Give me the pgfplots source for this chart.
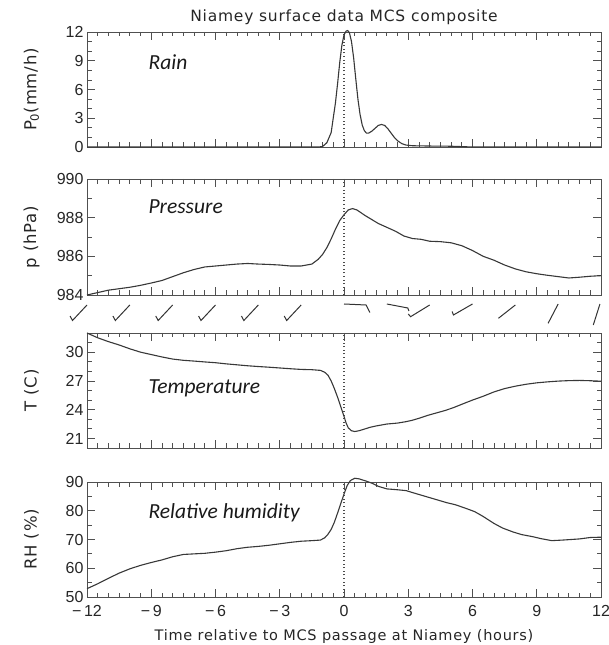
\documentclass[border=0pt]{standalone}
\usepackage{fontspec}
\setmainfont{Liberation Sans}
\newfontfamily\hfont{DejaVu Sans}[LetterSpace=5]
\newfontfamily\calfont{Carlito}
\usepackage{pgfplots}
\pgfplotsset{compat=1.18}
\definecolor{crv}{HTML}{383838}
\definecolor{frm}{HTML}{505050}
\tikzset{
  panellab/.style={anchor=west, font=\calfont\itshape\fontsize{21.5}{23}\selectfont, text=black!90},
  crvstyle/.style={crv, line width=1.1pt},
  zline/.style={black!70, line width=1.1pt, dash pattern=on 1pt off 2.6pt},
  barb/.style={black!80, line width=1pt},
  tk/.style={frm, line width=0.8pt},
}
% frame ticks drawn inside the box (relative positions): #1 major y ticks, #2 minor y ticks
\newcommand{\frameticks}[2]{%
  \pgfplotsinvokeforeach{0.0208333,0.0416667,0.0625,0.0833333,0.1041667,0.1458333,0.1666667,0.1875,0.2083333,0.2291667,0.2708333,0.2916667,0.3125,0.3333333,0.3541667,0.3958333,0.4166667,0.4375,0.4583333,0.4791667,0.5208333,0.5416667,0.5625,0.5833333,0.6041667,0.6458333,0.6666667,0.6875,0.7083333,0.7291667,0.7708333,0.7916667,0.8125,0.8333333,0.8541667,0.8958333,0.9166667,0.9375,0.9583333,0.9791667}{\draw[tk] (rel axis cs:##1,0) -- (rel axis cs:##1,0.03913); \draw[tk] (rel axis cs:##1,1) -- (rel axis cs:##1,0.96087);}
  \pgfplotsinvokeforeach{0.125,0.25,0.375,0.5,0.625,0.75,0.875}{\draw[tk] (rel axis cs:##1,0) -- (rel axis cs:##1,0.069565); \draw[tk] (rel axis cs:##1,1) -- (rel axis cs:##1,0.930435);}
  \pgfplotsinvokeforeach{#2}{\draw[tk] (rel axis cs:0,##1) -- (rel axis cs:0.008755,##1); \draw[tk] (rel axis cs:1,##1) -- (rel axis cs:0.991245,##1);}
  \pgfplotsinvokeforeach{#1}{\draw[tk] (rel axis cs:0,##1) -- (rel axis cs:0.015564,##1); \draw[tk] (rel axis cs:1,##1) -- (rel axis cs:0.984436,##1);}
}
\pgfplotsset{
  panel/.style={
    scale only axis, width=514pt, height=115pt,
    xmin=-12, xmax=12,
    xtick={-12,-9,...,12},
    axis line style={frm, line width=0.9pt},
    major tick length=0pt, minor tick length=0pt,
    tick label style={font=\fontsize{16}{17}\selectfont, text=black!85},
    every axis y label/.style={at={(axis description cs:-0.108,0.5)}, rotate=90, anchor=center, font=\hfont\fontsize{16.5}{17}\selectfont, text=black!85},
    clip=false,
    /pgf/number format/assume math mode=true,
  },
}
\begin{document}
\begin{tikzpicture}
\path[use as bounding box] (0,0) rectangle (609pt,645pt);
% ---------------- Rain ----------------
\begin{axis}[panel, at={(87pt,498pt)}, anchor=south west,
  ymin=0, ymax=12, ytick={0,3,...,12},
  xticklabels={},
  ylabel={P\textsubscript{0}(mm/h)},
  title={Niamey surface data MCS composite},
  title style={at={(axis description cs:0.5,1)}, anchor=center, yshift=9pt, font=\hfont\fontsize{15.5}{16}\selectfont, text=black!85}]
\frameticks{0.25,0.5,0.75}{0.0833333,0.1666667,0.3333333,0.4166667,0.5833333,0.6666667,0.8333333,0.9166667}
\addplot[zline] coordinates {(0,0) (0,12)};
\addplot[crvstyle] coordinates {
(-12,0) (-1.2,0) (-1.0,0.05) (-0.8,0.45) (-0.6,1.5) (-0.4,4.6) (-0.3,6.6) (-0.2,8.8) (-0.1,10.6) (0,11.7) (0.1,12.1) (0.17,12.15) (0.25,11.95) (0.35,11.0) (0.45,9.3) (0.55,7.1) (0.65,5.0) (0.75,3.4) (0.85,2.3) (0.95,1.7) (1.05,1.45) (1.15,1.45) (1.3,1.65) (1.45,1.95) (1.6,2.25) (1.75,2.35) (1.9,2.25) (2.05,1.9) (2.2,1.45) (2.35,1.0) (2.5,0.65) (2.7,0.35) (2.9,0.2) (3.2,0.13) (4,0.1) (5,0.08) (5.5,0.04) (6,0) (12,0)};
\node[panellab] at (axis description cs:0.113,0.74) {Rain};
\end{axis}
% ---------------- Pressure ----------------
\begin{axis}[panel, at={(87pt,350pt)}, anchor=south west, height=116pt,
  ymin=984, ymax=990, ytick={984,986,988,990},
  xticklabels={},
  ylabel={p (hPa)}]
\frameticks{0.3333333,0.6666667}{0.1666667,0.5,0.8333333}
\addplot[zline] coordinates {(0,984) (0,990)};
\addplot[crvstyle] coordinates {
(-12,984.0) (-11,984.25) (-10,984.4) (-9.5,984.5) (-9,984.62) (-8.5,984.75) (-8,984.95) (-7.5,985.15) (-7,985.32) (-6.5,985.45) (-6,985.5) (-5.5,985.55) (-5,985.6) (-4.5,985.63) (-4,985.6) (-3.5,985.58) (-3,985.55) (-2.5,985.5) (-2,985.5) (-1.5,985.6) (-1.2,985.85) (-1,986.1) (-0.8,986.45) (-0.6,986.9) (-0.4,987.4) (-0.2,987.85) (0,988.15) (0.2,988.4) (0.4,988.47) (0.6,988.4) (0.8,988.25) (1.0,988.1) (1.3,987.9) (1.6,987.7) (2.0,987.5) (2.4,987.3) (2.8,987.05) (3.2,986.92) (3.6,986.88) (4.0,986.78) (4.5,986.76) (5.0,986.7) (5.5,986.55) (6.0,986.3) (6.5,986.0) (7.0,985.8) (7.5,985.55) (8.0,985.35) (8.5,985.2) (9.0,985.1) (9.5,985.02) (10.0,984.95) (10.5,984.88) (11.0,984.92) (11.5,984.97) (12,985.0)};
\node[panellab] at (axis description cs:0.113,0.76) {Pressure};
\end{axis}
% ---------------- Wind barbs ----------------
\begin{axis}[scale only axis, width=514pt, height=30pt, at={(87pt,315pt)}, anchor=south west,
  xmin=-12, xmax=12, ymin=-30, ymax=0, hide axis, clip=false]
\addplot[barb] coordinates {(-12,-5) (-12.677,-20.5) (-12.79,-16)};
\addplot[barb] coordinates {(-10,-5) (-10.677,-20.5) (-10.79,-16)};
\addplot[barb] coordinates {(-8,-5) (-8.677,-20.5) (-8.79,-16)};
\addplot[barb] coordinates {(-6,-5) (-6.677,-20.5) (-6.79,-16)};
\addplot[barb] coordinates {(-4,-5) (-4.677,-20.5) (-4.79,-16)};
\addplot[barb] coordinates {(-2,-5) (-2.677,-20.5) (-2.79,-16)};
\addplot[barb] coordinates {(0,-4) (1.03,-5) (1.21,-12.5)};
\addplot[barb] coordinates {(2,-4) (2.98,-8) (3.03,-11)};
\addplot[barb] coordinates {(4,-5) (3.11,-16.7) (3.0,-14)};
\addplot[barb] coordinates {(6,-4) (5.11,-15) (5.05,-11.5)};
\addplot[barb] coordinates {(8,-5) (7.21,-18.3)};
\addplot[barb] coordinates {(10,-4) (9.53,-23.3)};
\addplot[barb] coordinates {(11.95,-4) (11.64,-25)};
\end{axis}
% ---------------- Temperature ----------------
\begin{axis}[panel, at={(87pt,197pt)}, anchor=south west,
  ymin=20, ymax=32, ytick={21,24,27,30},
  xticklabels={},
  ylabel={T (C)}]
\frameticks{0.0833333,0.3333333,0.5833333,0.8333333}{0.1666667,0.25,0.4166667,0.5,0.6666667,0.75,0.9166667}
\addplot[zline] coordinates {(0,20) (0,32)};
\addplot[crvstyle] coordinates {
(-12,32.0) (-11.5,31.5) (-11,31.1) (-10.5,30.75) (-10,30.35) (-9.5,30.0) (-9,29.75) (-8.5,29.5) (-8,29.28) (-7.5,29.15) (-7,29.07) (-6.5,28.98) (-6,28.9) (-5.5,28.78) (-5,28.68) (-4.5,28.58) (-4,28.5) (-3.5,28.43) (-3,28.35) (-2.5,28.27) (-2,28.2) (-1.5,28.17) (-1.1,28.1) (-0.9,27.9) (-0.75,27.6) (-0.6,27.0) (-0.45,26.2) (-0.3,25.3) (-0.15,24.3) (0,23.3) (0.1,22.6) (0.2,22.1) (0.35,21.8) (0.5,21.72) (0.7,21.8) (0.95,21.97) (1.2,22.15) (1.5,22.3) (2.0,22.5) (2.5,22.6) (2.9,22.75) (3.2,22.9) (3.5,23.1) (3.9,23.4) (4.3,23.65) (4.7,23.9) (5.1,24.2) (5.6,24.65) (6.0,25.0) (6.5,25.4) (7.0,25.85) (7.5,26.2) (8.0,26.45) (8.5,26.65) (9.0,26.8) (9.5,26.9) (10.0,26.98) (10.5,27.03) (11.0,27.05) (11.5,27.02) (12,26.97)};
\node[panellab] at (axis description cs:0.113,0.52) {Temperature};
\end{axis}
% ---------------- Relative humidity ----------------
\begin{axis}[panel, at={(87pt,48pt)}, anchor=south west,
  ymin=50, ymax=90, ytick={50,60,...,90},
  xticklabels={−\,12,−\,9,−\,6,−\,3,0,3,6,9,12},
  xticklabel style={yshift=-5pt},
  ylabel={RH (\%)},
  xlabel={Time relative to MCS passage at Niamey (hours)},
  xlabel style={at={(axis description cs:0.5,0)}, anchor=center, yshift=-39pt, font=\hfont\fontsize{14.5}{16}\selectfont, text=black!85}]
\frameticks{0.25,0.5,0.75}{0.125,0.375,0.625,0.875}
\addplot[zline] coordinates {(0,50) (0,90)};
\addplot[crvstyle] coordinates {
(-12,52.9) (-11.5,54.6) (-11,56.5) (-10.5,58.3) (-10,59.8) (-9.5,61.0) (-9,62.0) (-8.5,62.9) (-8,64.0) (-7.5,64.8) (-7,65.0) (-6.5,65.2) (-6,65.6) (-5.5,66.1) (-5,66.8) (-4.5,67.3) (-4,67.6) (-3.5,68.0) (-3,68.5) (-2.5,69.0) (-2,69.4) (-1.5,69.6) (-1.1,69.8) (-0.9,70.6) (-0.75,71.8) (-0.6,73.5) (-0.45,76.0) (-0.3,79.2) (-0.15,82.5) (0,85.8) (0.15,88.8) (0.3,90.5) (0.5,91.3) (0.7,91.1) (1.0,90.4) (1.3,89.6) (1.6,88.5) (2.0,87.6) (2.5,87.3) (2.9,87.0) (3.3,86.1) (3.8,85.0) (4.3,83.9) (4.8,82.8) (5.2,82.1) (5.7,80.8) (6.1,79.7) (6.5,78.0) (7.0,75.6) (7.4,74.0) (7.9,72.6) (8.3,71.7) (8.8,71.0) (9.2,70.3) (9.7,69.6) (10.2,69.8) (10.6,70.0) (11.0,70.2) (11.5,70.7) (12,70.8)};
\node[panellab] at (axis description cs:0.113,0.73) {Relative humidity};
\end{axis}
\end{tikzpicture}
\end{document}
